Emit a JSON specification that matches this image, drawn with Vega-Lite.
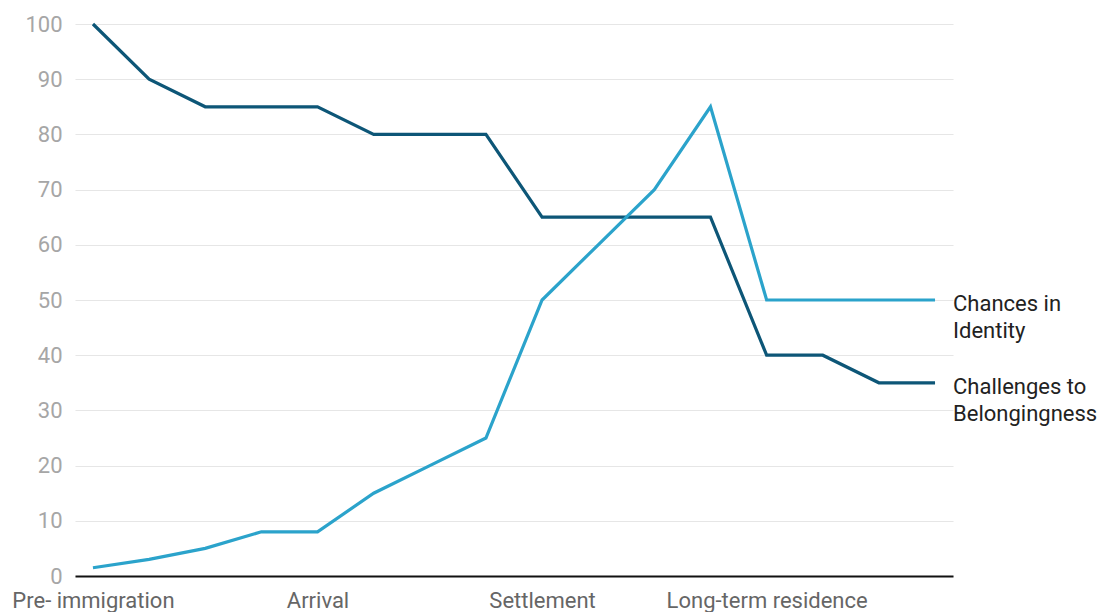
{
  "$schema": "https://vega.github.io/schema/vega-lite/v6.json",
  "width": 878,
  "height": 552,
  "autosize": {"type": "none"},
  "padding": {"left": 75, "top": 24, "right": 146, "bottom": 36},
  "background": "white",
  "config": {"view": {"stroke": null}, "font": "Roboto"},
  "data": {"values": [
    {"step": 0, "series": "Challenges", "value": 100},
    {"step": 1, "series": "Challenges", "value": 90},
    {"step": 2, "series": "Challenges", "value": 85},
    {"step": 3, "series": "Challenges", "value": 85},
    {"step": 4, "series": "Challenges", "value": 85},
    {"step": 5, "series": "Challenges", "value": 80},
    {"step": 6, "series": "Challenges", "value": 80},
    {"step": 7, "series": "Challenges", "value": 80},
    {"step": 8, "series": "Challenges", "value": 65},
    {"step": 9, "series": "Challenges", "value": 65},
    {"step": 10, "series": "Challenges", "value": 65},
    {"step": 11, "series": "Challenges", "value": 65},
    {"step": 12, "series": "Challenges", "value": 40},
    {"step": 13, "series": "Challenges", "value": 40},
    {"step": 14, "series": "Challenges", "value": 35},
    {"step": 15, "series": "Challenges", "value": 35, "label": "Challenges to\nBelongingness"},
    {"step": 0, "series": "Chances", "value": 1.5},
    {"step": 1, "series": "Chances", "value": 3},
    {"step": 2, "series": "Chances", "value": 5},
    {"step": 3, "series": "Chances", "value": 8},
    {"step": 4, "series": "Chances", "value": 8},
    {"step": 5, "series": "Chances", "value": 15},
    {"step": 6, "series": "Chances", "value": 20},
    {"step": 7, "series": "Chances", "value": 25},
    {"step": 8, "series": "Chances", "value": 50},
    {"step": 9, "series": "Chances", "value": 60},
    {"step": 10, "series": "Chances", "value": 70},
    {"step": 11, "series": "Chances", "value": 85},
    {"step": 12, "series": "Chances", "value": 50},
    {"step": 13, "series": "Chances", "value": 50},
    {"step": 14, "series": "Chances", "value": 50},
    {"step": 15, "series": "Chances", "value": 50, "label": "Chances in\nIdentity"}
  ]},
  "encoding": {
    "x": {
      "field": "step", "type": "quantitative",
      "scale": {"domain": [-0.32, 15.32], "nice": false, "zero": false},
      "axis": {
        "title": null, "grid": false, "values": [0, 4, 8, 12],
        "labelExpr": "datum.value == 0 ? 'Pre- immigration' : datum.value == 4 ? 'Arrival' : datum.value == 8 ? 'Settlement' : 'Long-term residence'",
        "labelFontSize": 22, "labelColor": "#666666", "labelPadding": 14, "labelLimit": 400,
        "ticks": false, "domainColor": "#111111", "domainWidth": 2, "labelFlush": false
      }
    },
    "y": {
      "field": "value", "type": "quantitative",
      "scale": {"domain": [0, 100], "nice": false},
      "axis": {
        "title": null, "values": [0,10,20,30,40,50,60,70,80,90,100],
        "domain": false, "ticks": false, "labelFontSize": 22, "labelColor": "#a6a6a6",
        "labelPadding": 13, "gridColor": "#e6e6e6", "gridWidth": 1.2
      }
    },
    "color": {
      "field": "series", "type": "nominal",
      "scale": {"domain": ["Chances", "Challenges"], "range": ["#2ba3cb", "#0d5677"]},
      "legend": null
    }
  },
  "layer": [
    {"mark": {"type": "line", "strokeWidth": 3.2}},
    {
      "transform": [{"filter": "datum.step == 15"}],
      "mark": {"type": "text", "align": "left", "baseline": "top", "dx": 18, "dy": -6, "lineBreak": "\n", "fontSize": 22, "lineHeight": 27, "color": "#222222"},
      "encoding": {"text": {"field": "label"}, "color": {"value": "#222222"}}
    }
  ]
}
